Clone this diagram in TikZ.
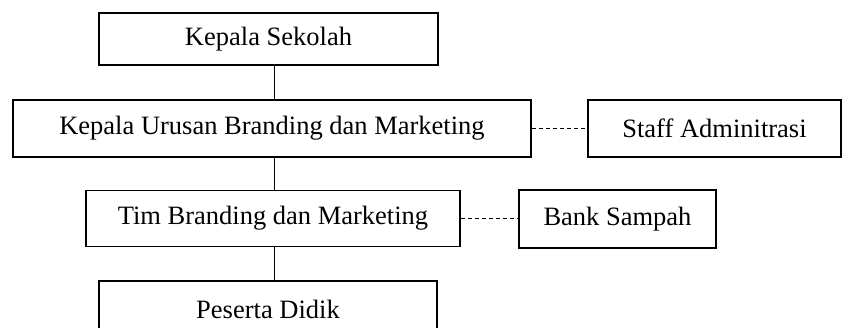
\documentclass[tikz,border=0pt]{standalone}
\usepackage{fontspec}
\setmainfont{Liberation Serif}
\usetikzlibrary{positioning}

\begin{document}
\begin{tikzpicture}[
        x=1pt, y=-1pt,
        every node/.style={font=\fontsize{26.5}{30}\selectfont},
        jabatan/.style={draw, line width=1.6pt, minimum height=57pt, inner sep=0pt},
        garis/.style={line width=0.8pt},
        putus/.style={line width=0.8pt, dash pattern=on 4pt off 3pt}
    ]
    \useasboundingbox (0,0) rectangle (842,327);
    \node[jabatan, minimum width=339pt, minimum height=52pt] (kepsek) at (268.5,39) {Kepala Sekolah};
    \node[jabatan, minimum width=518pt] (kaur) at (272,128.5) {Kepala Urusan Branding dan Marketing};
    \node[jabatan, minimum width=253pt] (staff) at (714.5,128.5) {Staff Adminitrasi};
    \node[jabatan, minimum width=374pt, minimum height=56pt] (tim) at (273,218.5) {Tim Branding dan Marketing};
    \node[jabatan, minimum width=197pt, minimum height=58pt] (bank) at (617.5,219) {Bank Sampah};
    \node[jabatan, minimum width=338pt] (siswa) at (268,309.5) {Peserta Didik};
    \coordinate (poros) at (274,0);
    % garis komando
    \draw[garis] (kepsek.south -| poros) -- (kaur.north -| poros);
    \draw[garis] (kaur.south -| poros) -- (tim.north -| poros);
    \draw[garis] (tim.south -| poros) -- (siswa.north -| poros);
    % garis koordinasi
    \draw[putus] (kaur.east) -- (kaur.east -| staff.west);
    \draw[putus] (tim.east) -- (tim.east -| bank.west);
\end{tikzpicture}
\end{document}
